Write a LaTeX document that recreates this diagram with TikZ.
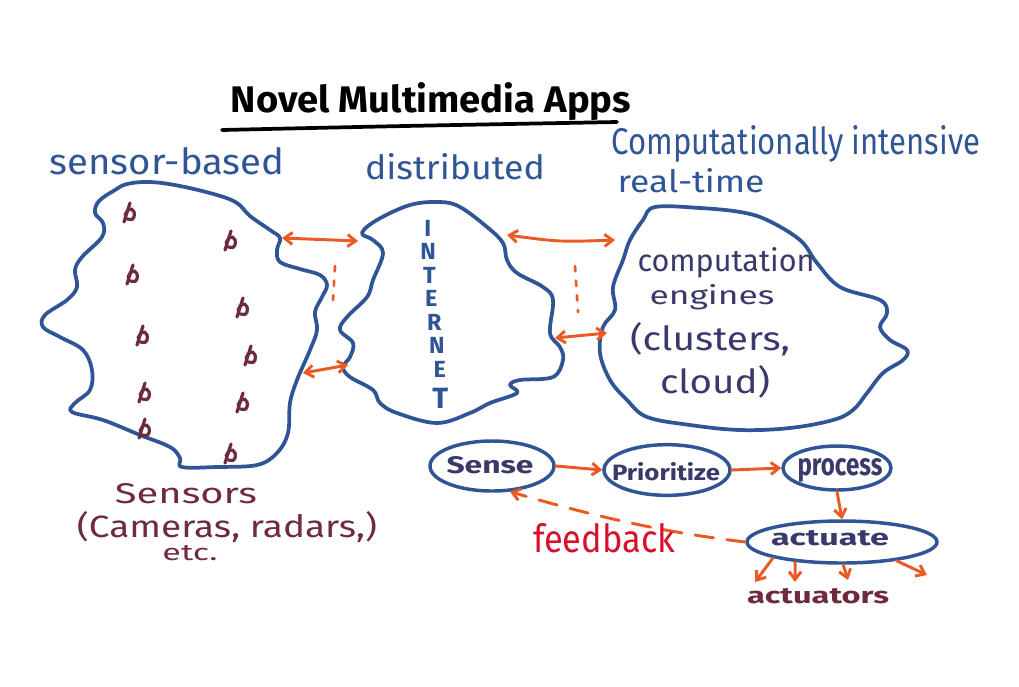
\documentclass[tikz,border=0pt]{standalone}
\usepackage{fontspec}
\setmainfont{Fira Sans}
\usepackage{graphicx}
\usetikzlibrary{shapes.geometric,arrows.meta}
\definecolor{blobblue}{HTML}{2F5597}
\definecolor{navy}{HTML}{3A3A6A}
\definecolor{orng}{HTML}{EC5A24}
\definecolor{maroon}{HTML}{6E2B3C}
\definecolor{fbred}{HTML}{D8112B}
\newdimen\pxu \pxu=0.75pt
\newcommand\tw[2]{\resizebox{#1\pxu}{!}{#2}}
\newcommand\twh[3]{\resizebox{#1\pxu}{#2\pxu}{#3}}
\begin{document}
\begin{tikzpicture}[x=0.75pt,y=-0.75pt,
  blob/.style={draw=blobblue, line width=2.8pt, line join=round},
  lbl/.style={inner sep=0pt, anchor=base},
  oarrow/.style={draw=orng, line width=2.2pt, line cap=round,
    {Straight Barb[length=6pt,width=9pt]}-{Straight Barb[length=6pt,width=9pt]}},
  sarrow/.style={draw=orng, line width=2.2pt, line cap=round,
    -{Straight Barb[length=6pt,width=9pt]}},
  dots/.style={draw=orng, line width=2pt, line cap=round, dash pattern=on 4pt off 7pt},
  stage/.style={ellipse, draw=blobblue, line width=2.6pt, inner sep=0pt},
  smark/.style={draw=maroon, line width=2.4pt, line cap=round}
]
\useasboundingbox (0,0) rectangle (1019,686);
\fill[white] (0,0) rectangle (1019,686);

% title
\node[lbl, font=\bfseries] (title) at (431,112) {\twh{400}{30}{Novel Multimedia Apps}};
\coordinate (ulL) at (222,130);
\coordinate (ulR) at (617,122);
\draw[line width=2.8pt, line cap=round] (ulL) .. controls (400,126) .. (ulR);

% headings
\node[lbl, text=blobblue] (hsensor) at (167,174) {\twh{235}{27}{sensor-based}};
\node[lbl, text=blobblue] (hdist) at (455,179) {\twh{180}{26}{distributed}};
\node[lbl, text=blobblue] (hcomp) at (796,154) {\twh{368}{29}{Computationally intensive}};
\node[lbl, text=blobblue] (hrt) at (691,192) {\twh{147}{24}{real-time}};

% left blob (sensors)
\draw[blob] plot[smooth cycle, tension=0.6] coordinates {
 (127,184) (150,182) (180,186) (217,195) (237,203) (250,216) (270,230) (280,238)
 (277,250) (280,262) (300,269) (320,275) (327,285) (322,297) (315,312) (317,330)
 (310,350) (297,380) (290,403) (288,433) (277,453) (257,465) (217,467) (182,467)
 (180,458) (170,447) (140,435) (103,420) (72,412) (75,403) (90,390) (92,370)
 (83,350) (60,337) (43,327) (45,315) (67,300) (77,287) (75,270) (82,257)
 (102,237) (103,223) (95,213) (99,201) (115,190)};

% sensor marks
\foreach \p in {(127,212),(130,274),(140,335),(142,392),(142,428),
                (228,240),(240,307),(248,355),(240,402),(228,453)}{
  \draw[smark] \p ++(-3,10) -- ++(6,-19);
  \draw[smark] \p ++(-2,3) .. controls ++(4,-10) and ++(2,-8) .. ++(9,2)
                 .. controls ++(-2,4) and ++(4,0) .. ++(-7,2);
}

% internet blob
\draw[blob] plot[smooth cycle, tension=0.6] coordinates {
 (362,233) (377,220) (410,205) (440,202) (460,207) (487,227) (503,243) (507,260)
 (517,273) (543,287) (553,300) (550,333) (560,347) (563,360) (553,377) (520,380)
 (510,385) (517,393) (490,403) (470,413) (437,423) (397,413) (380,403) (373,390)
 (350,377) (343,367) (350,357) (353,343) (340,330) (347,317) (367,297) (373,280)
 (383,253) (373,240)};
\node[inner sep=0pt, anchor=north west, align=left, text=blobblue,
      font=\bfseries\fontsize{17.5}{17.6}\selectfont] (inet) at (420,220)
  {\hspace*{3pt}I\\ \hspace*{0pt}N\\ \hspace*{2.2pt}T\\ \hspace*{3.7pt}E\\
   \hspace*{5.2pt}R\\ \hspace*{6.7pt}N\\ \hspace*{10pt}E\\[5.6pt]
   \hspace*{9pt}{\fontsize{22}{22}\selectfont T}};

% right blob (computation engines)
\draw[blob] plot[smooth cycle, tension=0.6] coordinates {
 (655,207) (700,208) (740,212) (767,220) (800,240) (817,263) (840,287) (880,300)
 (887,313) (880,327) (890,340) (907,350) (903,360) (883,373) (867,393) (853,410)
 (833,420) (790,428) (740,430) (690,425) (647,417) (627,400) (610,380) (600,353)
 (603,327) (615,310) (613,287) (623,260) (630,240) (643,220)};
\node[lbl, text=navy] (c1) at (726,271) {\twh{177}{24}{computation}};
\node[lbl, text=navy] (c2) at (712,304) {\twh{125}{20}{engines}};
\node[lbl, text=navy] (c3) at (710,350) {\twh{160}{28}{(clusters,}};
\node[lbl, text=navy] (c4) at (715,393) {\twh{110}{28}{cloud)}};

% blob-to-blob arrows
\coordinate (a1L) at (282,238); \coordinate (a1R) at (358,241);
\coordinate (a2L) at (303,373); \coordinate (a2R) at (348,365);
\coordinate (a3L) at (507,235); \coordinate (a3R) at (615,240);
\coordinate (a4L) at (555,338); \coordinate (a4R) at (607,333);
\draw[oarrow] (a1L) -- (a1R);
\draw[oarrow] (a2L) -- (a2R);
\draw[oarrow] (a3L) .. controls (560,242) .. (a3R);
\draw[oarrow] (a4L) -- (a4R);
\coordinate (d1T) at (335,266); \coordinate (d1B) at (333,300);
\coordinate (d2T) at (575,266); \coordinate (d2B) at (578,312);
\draw[dots] (d1T) -- (d1B);
\draw[dots] (d2T) -- (d2B);

% sensors caption
\node[lbl, text=maroon] (s1) at (186,503) {\twh{142}{20}{Sensors}};
\node[lbl, text=maroon] (s2) at (227,537) {\twh{300}{26}{(Cameras, radars,)}};
\node[lbl, text=maroon] (s3) at (190,560) {\twh{55}{15}{etc.}};

% processing pipeline
\node[stage, minimum width=93pt, minimum height=37.5pt] (sense) at (492,466) {};
\node[stage, minimum width=94.5pt, minimum height=38pt] (prio) at (667,470) {};
\node[stage, minimum width=81pt, minimum height=33pt] (proc) at (837,468) {};
\node[stage, minimum width=142.5pt, minimum height=31.5pt] (act) at (842,542) {};
\node[lbl, text=navy, font=\bfseries] (senset) at (490,473) {\twh{87}{17}{Sense}};
\node[lbl, text=navy, font=\bfseries] (priot) at (666,480) {\twh{108}{18}{Prioritize}};
\node[lbl, text=navy, font=\bfseries] (proct) at (840,475) {\twh{85}{17}{process}};
\node[lbl, text=navy, font=\bfseries] (actt) at (830,545) {\twh{118}{15}{actuate}};

\draw[sarrow] (sense.east) -- (prio.west);
\draw[sarrow] (prio.east) -- (proc.west);
\draw[sarrow] (proc.south) -- (act.north);
\draw[sarrow, dash pattern=on 14pt off 10pt] (act.west) .. controls (660,532) and (590,515) .. (sense.-55);
\node[lbl, text=fbred] (fb) at (604,552) {\twh{142}{29}{feedback}};

\coordinate (t1) at (755,582);
\coordinate (t2) at (795,582);
\coordinate (t3) at (848,580);
\coordinate (t4) at (927,575);
\draw[sarrow] (act.193) -- (t1);
\draw[sarrow] (act.203) -- (t2);
\draw[sarrow] (act.273) -- (t3);
\draw[sarrow] (act.341) -- (t4);
\node[lbl, text=maroon, font=\bfseries] (acts) at (818,603) {\twh{142}{15}{actuators}};
\end{tikzpicture}
\end{document}
